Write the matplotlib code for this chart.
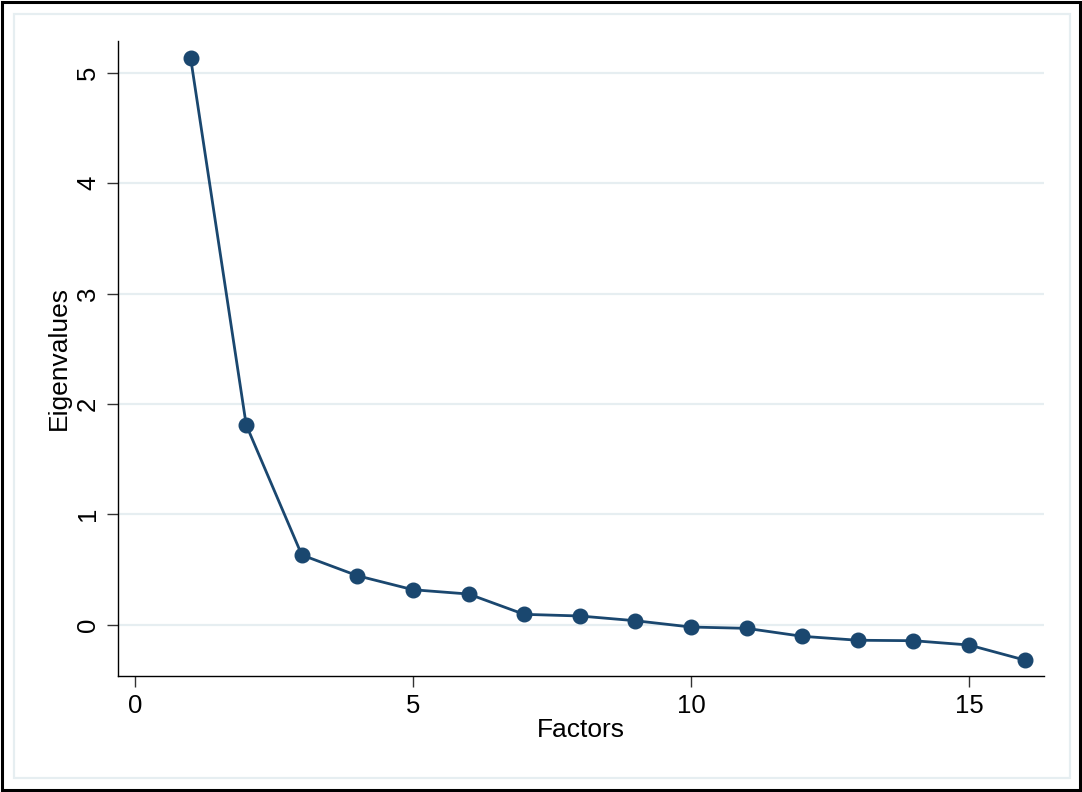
import matplotlib
matplotlib.use("Agg")
import matplotlib.pyplot as plt
from matplotlib.patches import Rectangle

factors = list(range(1, 17))
eigenvalues = [5.137, 1.81, 0.631, 0.443, 0.316, 0.277, 0.093, 0.078,
               0.035, -0.022, -0.034, -0.106, -0.142, -0.146, -0.185, -0.321]
xticks = [0, 5, 10, 15]
yticks = [0, 1, 2, 3, 4, 5]

plt.rcParams['font.family'] = ['Liberation Sans', 'DejaVu Sans']

fig = plt.figure(figsize=(10.82, 7.92), dpi=100)
fig.patch.set_facecolor('white')

# outer black frame
fig.add_artist(Rectangle((2/1082, 2/792), 1 - 4/1082, 1 - 4/792, transform=fig.transFigure,
                         fill=False, edgecolor='black', linewidth=2.2))
# inner light frame
fig.add_artist(Rectangle((14/1082, 14/792), 1056/1082, 764/792, transform=fig.transFigure,
                         fill=False, edgecolor='#e6eef1', linewidth=1.6))

ax = fig.add_axes([118/1082, 1 - 676/792, (1044 - 118)/1082, (676 - 41)/792])
ax.plot(factors, eigenvalues, color='#1a476f', linewidth=2.0, marker='o',
        markersize=10.5, markerfacecolor='#1a476f', markeredgecolor='#1a476f', zorder=3)

ax.set_xlim(-0.306, 16.35)
ax.set_ylim(-0.466, 5.29)
ax.set_xticks(xticks)
ax.set_yticks(yticks)
ax.grid(axis='y', color='#e6eef1', linewidth=1.6)
ax.grid(axis='x', visible=False)
ax.set_axisbelow(True)

for s in ['top', 'right']:
    ax.spines[s].set_visible(False)
for s in ['left', 'bottom']:
    ax.spines[s].set_linewidth(1.0)
    ax.spines[s].set_color('black')

ax.tick_params(axis='both', direction='out', length=8, width=1.0, colors='#333333',
               labelsize=18.5, labelcolor='black', pad=5)
for lbl in ax.get_yticklabels():
    lbl.set_rotation(90)
    lbl.set_va('center')

ax.set_xlabel('Factors', fontsize=19, labelpad=0)
ax.set_ylabel('Eigenvalues', fontsize=19, labelpad=4)

fig.savefig('out.png', dpi=100, facecolor='white')
